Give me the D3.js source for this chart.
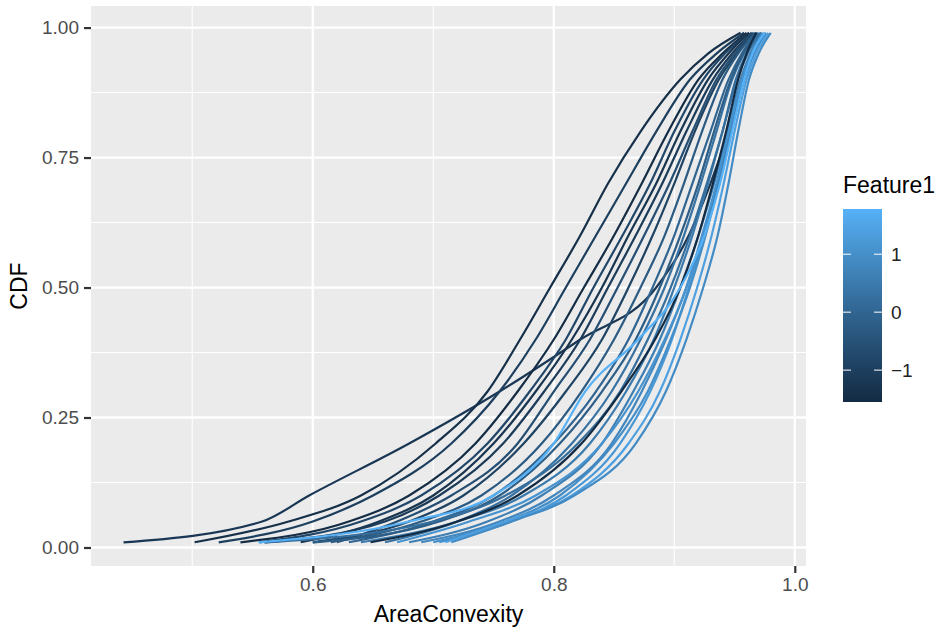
<!DOCTYPE html>
<html>
<head>
<meta charset="utf-8">
<script src="https://cdn.jsdelivr.net/npm/d3@7"></script>
<style>
  body { margin: 0; background: #fff; }
  text { font-family: "Liberation Sans", Arial, sans-serif; }
</style>
</head>
<body>
<div id="chart"></div>
<script>
/* ECDF curves of AreaConvexity, one per sample, coloured by Feature1 */

// CDF levels at which each curve's AreaConvexity was read
const cdfLevels = [0.01, 0.05, 0.10, 0.20, 0.30, 0.40, 0.50, 0.60, 0.70, 0.80, 0.90, 0.95, 0.99];

// Feature1 value of each curve
const feature1 = [-1.2, -1.4, -1.0, -1.5, -0.8, -1.3, -1.1, -0.6, -0.9,
                  -0.3, 0.0, 0.3, -0.2, 0.5, 0.2,
                  1.2, 1.0, 0.8, 1.4, 0.9, 0.6, 1.1,
                  -1.55, 1.78];

// AreaConvexity of each curve at the cdfLevels
const areaConvexity = [
  [0.443, 0.558, 0.597, 0.680, 0.755, 0.822, 0.885, 0.912, 0.930, 0.945, 0.958, 0.965, 0.972],
  [0.502, 0.580, 0.640, 0.702, 0.745, 0.772, 0.797, 0.822, 0.845, 0.872, 0.905, 0.928, 0.955],
  [0.522, 0.600, 0.650, 0.715, 0.755, 0.785, 0.810, 0.835, 0.860, 0.885, 0.913, 0.935, 0.958],
  [0.540, 0.630, 0.680, 0.735, 0.770, 0.800, 0.825, 0.850, 0.873, 0.895, 0.920, 0.940, 0.960],
  [0.556, 0.640, 0.690, 0.745, 0.780, 0.810, 0.833, 0.857, 0.880, 0.900, 0.924, 0.942, 0.962],
  [0.590, 0.655, 0.700, 0.750, 0.785, 0.815, 0.840, 0.862, 0.885, 0.905, 0.928, 0.945, 0.962],
  [0.560, 0.660, 0.705, 0.758, 0.792, 0.822, 0.845, 0.868, 0.890, 0.910, 0.932, 0.948, 0.964],
  [0.620, 0.670, 0.715, 0.770, 0.800, 0.830, 0.853, 0.875, 0.896, 0.915, 0.935, 0.950, 0.965],
  [0.600, 0.680, 0.725, 0.775, 0.810, 0.840, 0.862, 0.882, 0.900, 0.917, 0.937, 0.952, 0.966],
  [0.615, 0.690, 0.740, 0.790, 0.823, 0.850, 0.872, 0.892, 0.908, 0.923, 0.940, 0.953, 0.967],
  [0.630, 0.700, 0.750, 0.800, 0.835, 0.862, 0.882, 0.900, 0.915, 0.930, 0.945, 0.956, 0.968],
  [0.660, 0.720, 0.765, 0.815, 0.848, 0.872, 0.892, 0.908, 0.922, 0.935, 0.948, 0.958, 0.970],
  [0.600, 0.705, 0.755, 0.805, 0.840, 0.868, 0.888, 0.905, 0.920, 0.933, 0.947, 0.957, 0.969],
  [0.640, 0.720, 0.775, 0.830, 0.860, 0.883, 0.900, 0.915, 0.928, 0.940, 0.952, 0.961, 0.971],
  [0.560, 0.700, 0.760, 0.820, 0.855, 0.878, 0.897, 0.913, 0.927, 0.940, 0.951, 0.960, 0.972],
  [0.705, 0.765, 0.810, 0.855, 0.880, 0.898, 0.912, 0.925, 0.936, 0.946, 0.957, 0.965, 0.975],
  [0.700, 0.760, 0.805, 0.850, 0.878, 0.897, 0.913, 0.926, 0.937, 0.947, 0.958, 0.966, 0.976],
  [0.690, 0.755, 0.800, 0.848, 0.873, 0.893, 0.910, 0.924, 0.936, 0.947, 0.958, 0.966, 0.976],
  [0.710, 0.760, 0.815, 0.862, 0.888, 0.905, 0.919, 0.931, 0.941, 0.950, 0.960, 0.968, 0.978],
  [0.715, 0.765, 0.817, 0.868, 0.893, 0.910, 0.924, 0.936, 0.945, 0.953, 0.962, 0.970, 0.980],
  [0.680, 0.745, 0.790, 0.840, 0.866, 0.888, 0.905, 0.920, 0.933, 0.944, 0.955, 0.963, 0.973],
  [0.670, 0.730, 0.785, 0.840, 0.870, 0.892, 0.910, 0.923, 0.935, 0.945, 0.956, 0.964, 0.974],
  [0.648, 0.720, 0.770, 0.823, 0.856, 0.884, 0.905, 0.920, 0.932, 0.943, 0.953, 0.960, 0.968],
  [0.555, 0.680, 0.750, 0.800, 0.826, 0.870, 0.905, 0.925, 0.938, 0.948, 0.958, 0.965, 0.975]
];

// tick labels
const xTicks = [0.6, 0.8, 1.0];
const xMinor = [0.5, 0.7, 0.9];
const yTicks = [0, 0.25, 0.5, 0.75, 1];
const yMinor = [0.125, 0.375, 0.625, 0.875];
const legendTicks = [-1, 0, 1];

const width = 939,
      height = 627,
      margin = ({top: 6, right: 133, bottom: 61, left: 91});

let svg = d3.select("#chart")
            .append("svg")
            .attr("width", width)
            .attr("height", height);

let x = d3.scaleLinear()
          .domain([0.416, 1.0093])
          .range([margin.left, width - margin.right]);

let y = d3.scaleLinear()
          .domain([-0.0356, 1.0415])
          .range([height - margin.bottom, margin.top]);

let color = d3.scaleLinear()
              .domain([-1.55, 1.78])
              .range(["#132B43", "#56B1F7"])
              .interpolate(d3.interpolateLab);

/* panel and grid */
svg.append("rect")
   .attr("x", x.range()[0])
   .attr("y", y.range()[1])
   .attr("width", x.range()[1] - x.range()[0])
   .attr("height", y.range()[0] - y.range()[1])
   .attr("fill", "#EBEBEB");

let grid = svg.append("g");

grid.selectAll(".xminor").data(xMinor).join("line")
    .attr("x1", d => x(d)).attr("x2", d => x(d))
    .attr("y1", y.range()[1]).attr("y2", y.range()[0])
    .attr("stroke", "#fff").attr("stroke-width", 1.1);

grid.selectAll(".yminor").data(yMinor).join("line")
    .attr("y1", d => y(d)).attr("y2", d => y(d))
    .attr("x1", x.range()[0]).attr("x2", x.range()[1])
    .attr("stroke", "#fff").attr("stroke-width", 1.1);

grid.selectAll(".xmajor").data(xTicks).join("line")
    .attr("x1", d => x(d)).attr("x2", d => x(d))
    .attr("y1", y.range()[1]).attr("y2", y.range()[0])
    .attr("stroke", "#fff").attr("stroke-width", 2.3);

grid.selectAll(".ymajor").data(yTicks).join("line")
    .attr("y1", d => y(d)).attr("y2", d => y(d))
    .attr("x1", x.range()[0]).attr("x2", x.range()[1])
    .attr("stroke", "#fff").attr("stroke-width", 2.3);

/* the curves */
let line = d3.line()
             .x(d => x(d[0]))
             .y(d => y(d[1]))
             .curve(d3.curveMonotoneX);

svg.append("g")
   .selectAll("path")
   .data(areaConvexity.map((vals, i) => ({f: feature1[i], pts: vals.map((v, j) => [v, cdfLevels[j]])})))
   .join("path")
   .attr("d", d => line(d.pts))
   .attr("fill", "none")
   .attr("stroke", d => color(d.f))
   .attr("stroke-width", 2.2)
   .attr("stroke-linejoin", "round");

/* axes */
const xAxis = g => g
      .attr("transform", `translate(0, ${height - margin.bottom})`)
      .call(d3.axisBottom(x).tickValues(xTicks).tickFormat(d3.format(".1f")).tickSize(7).tickPadding(5));

const yAxis = g => g
      .attr("transform", `translate(${margin.left}, 0)`)
      .call(d3.axisLeft(y).tickValues(yTicks).tickFormat(d3.format(".2f")).tickSize(7).tickPadding(5));

for (let ax of [xAxis, yAxis]) {
    let g = svg.append("g").call(ax);
    g.select(".domain").remove();
    g.selectAll(".tick line").attr("stroke", "#333").attr("stroke-width", 2.2);
    g.selectAll(".tick text")
     .attr("fill", "#4D4D4D")
     .style("font-size", "19px")
     .style("font-family", "'Liberation Sans', Arial, sans-serif");
}

svg.append("text")
   .attr("x", (x.range()[0] + x.range()[1]) / 2)
   .attr("y", 622)
   .attr("text-anchor", "middle")
   .style("font-size", "23px")
   .text("AreaConvexity");

svg.append("text")
   .attr("transform", `translate(27, ${(y.range()[0] + y.range()[1]) / 2}) rotate(-90)`)
   .attr("text-anchor", "middle")
   .style("font-size", "23px")
   .text("CDF");

/* colour bar legend */
const barX = 843, barW = 39;
let ly = d3.scaleLinear().domain([-1.55, 1.78]).range([402, 209]);

let grad = svg.append("defs").append("linearGradient")
              .attr("id", "fgrad")
              .attr("x1", 0).attr("y1", 1).attr("x2", 0).attr("y2", 0);
grad.selectAll("stop")
    .data(d3.range(0, 1.0001, 0.1))
    .join("stop")
    .attr("offset", d => d)
    .attr("stop-color", d => color(-1.55 + d * 3.33));

svg.append("rect")
   .attr("x", barX).attr("y", ly.range()[1])
   .attr("width", barW).attr("height", ly.range()[0] - ly.range()[1])
   .attr("fill", "url(#fgrad)");

let lt = svg.append("g").selectAll("g").data(legendTicks).join("g");
lt.append("line")
  .attr("x1", barX).attr("x2", barX + 8)
  .attr("y1", d => ly(d)).attr("y2", d => ly(d))
  .attr("stroke", "#fff").attr("stroke-width", 1);
lt.append("line")
  .attr("x1", barX + barW - 8).attr("x2", barX + barW)
  .attr("y1", d => ly(d)).attr("y2", d => ly(d))
  .attr("stroke", "#fff").attr("stroke-width", 1);
lt.append("text")
  .attr("x", 891)
  .attr("y", d => ly(d))
  .attr("dy", "0.36em")
  .attr("fill", "#222")
  .style("font-size", "19px")
  .text(d => d3.format("")(d).replace("-", "\u2212"));

svg.append("text")
   .attr("x", barX)
   .attr("y", 193)
   .style("font-size", "23px")
   .text("Feature1");
</script>
</body>
</html>
